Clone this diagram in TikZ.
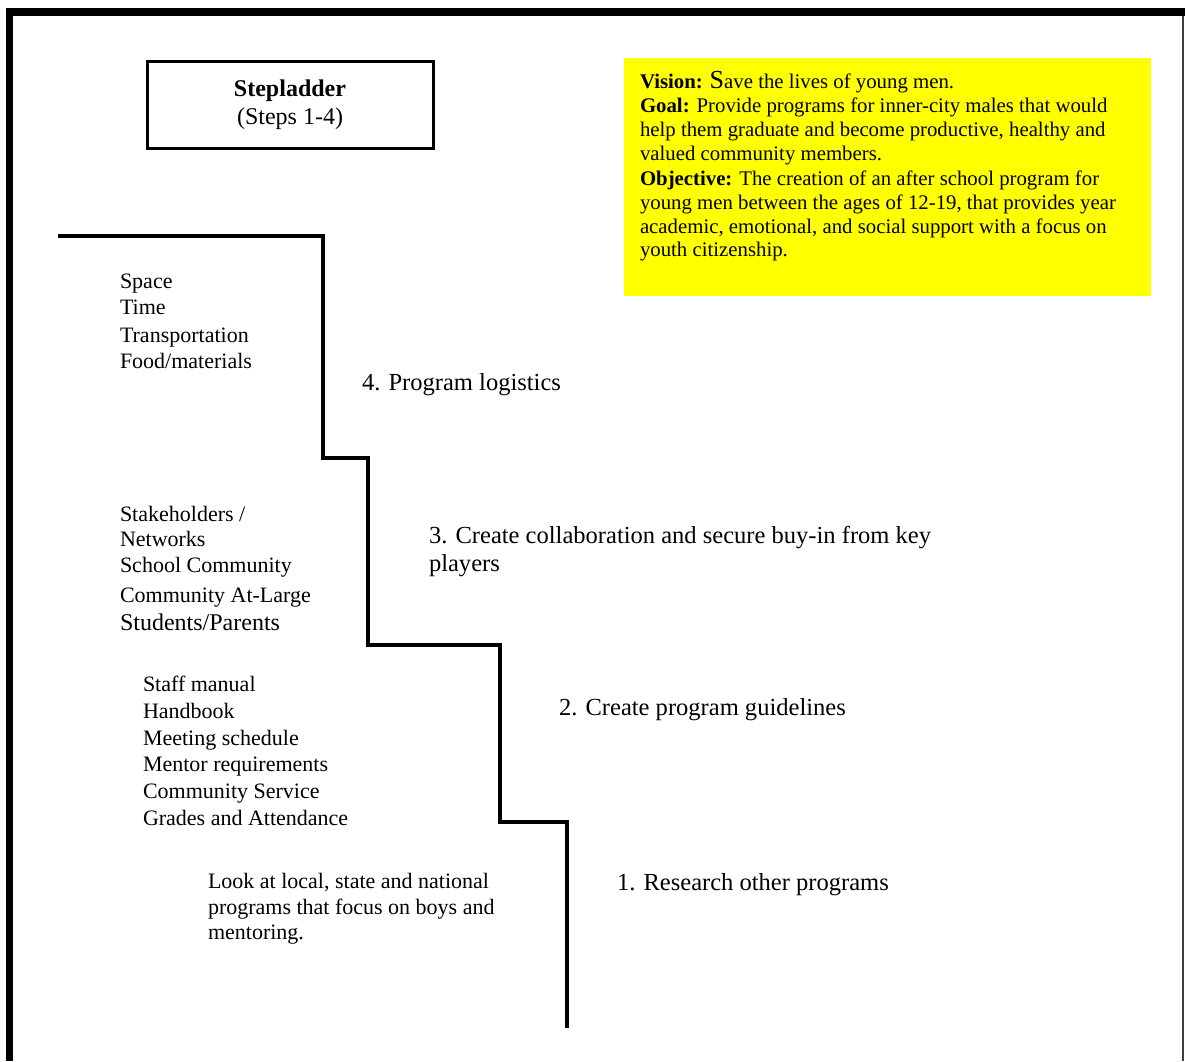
\documentclass[tikz,border=0pt]{standalone}
\usepackage{fontspec}
\setmainfont{Liberation Serif}
\definecolor{pureyellow}{RGB}{255,255,0}
\begin{document}
\begin{tikzpicture}[x=0.75pt,y=-0.75pt,
  txt/.style={anchor=base west, inner sep=0pt, outer sep=0pt},
  lst/.style={txt, font=\fontsize{16.5pt}{20pt}\selectfont},
  lstbig/.style={txt, font=\fontsize{18pt}{21pt}\selectfont},
  steplabel/.style={txt, font=\fontsize{18.4pt}{21pt}\selectfont},
  yel/.style={txt, font=\fontsize{15.6pt}{18pt}\selectfont},
  stair/.style={line width=3pt, line join=miter},
  titlebox/.style={draw, line width=2.25pt, inner sep=0pt, align=center,
    minimum width=214.5pt, minimum height=65.25pt,
    font=\fontsize{18pt}{21.3pt}\selectfont},
  yellowbox/.style={fill=pureyellow, inner sep=0pt, anchor=north west,
    minimum width=395.25pt, minimum height=178.5pt}]
\useasboundingbox (0,0) rectangle (1185,1061);
\fill[white] (0,0) rectangle (1185,1061);
% outer frame
\fill[black] (6,8) rectangle (1185,16);
\fill[black] (6,8) rectangle (13,1061);
\draw[line width=1.5pt, black!75] (1183,16) -- (1183,1061);

% title box
\node[titlebox] (title) at (290,104.5) {\textbf{Stepladder}\\(Steps 1-4)};

% yellow box
\node[yellowbox] (vbox) at (624,58) {};
\node[yel] (y1) at (640,88.3) {\textbf{Vision:} {\fontsize{19.5pt}{18pt}\selectfont S}ave the lives of young men.};
\node[yel] (y2) at (640,112.7) {\textbf{Goal:} Provide programs for inner-city males that would};
\node[yel] (y3) at (640,136.7) {help them graduate and become productive, healthy and};
\node[yel] (y4) at (640,160.7) {valued community members.};
\node[yel] (y5) at (640,185) {\textbf{Objective:} The creation of an after school program for};
\node[yel] (y6) at (640,209.3) {young men between the ages of 12-19, that provides year};
\node[yel] (y7) at (640,233.3) {academic, emotional, and social support with a focus on};
\node[yel] (y8) at (640,256.7) {youth citizenship.};

% staircase
\coordinate (st0) at (58,235.5);
\coordinate (st1) at (322.5,235.5);
\coordinate (st2) at (322.5,457.5);
\coordinate (st3) at (368,457.5);
\coordinate (st4) at (368,644.5);
\coordinate (st5) at (499.5,644.5);
\coordinate (st6) at (499.5,822);
\coordinate (st7) at (567,822);
\coordinate (st8) at (567,1028);
\draw[stair] (st0) -- (st1) -- (st2) -- (st3) -- (st4) -- (st5) -- (st6) -- (st7) -- (st8);

% step labels
\node[steplabel] (s4) at (362,390) {4. Program logistics};
\node[steplabel] (s3a) at (429,543.3) {3. Create collaboration and secure buy-in from key};
\node[steplabel] (s3b) at (429,571) {players};
\node[steplabel] (s2) at (559,715) {2. Create program guidelines};
\node[steplabel] (s1) at (617,890) {1. Research other programs};

% step 4 list
\node[lst] (a1) at (120,288.5) {Space};
\node[lst] (a2) at (120,314.5) {Time};
\node[lst] (a3) at (120,342.5) {Transportation};
\node[lst] (a4) at (120,368.5) {Food/materials};

% step 3 list
\node[lst] (b1) at (120,521.7) {Stakeholders /};
\node[lst] (b2) at (120,546) {Networks};
\node[lst] (b3) at (120,572.7) {School Community};
\node[lst] (b4) at (120,602.7) {Community At-Large};
\node[lstbig] (b5) at (120,630.7) {Students/Parents};

% step 2 list
\node[lst] (c1) at (143,691.7) {Staff manual};
\node[lst] (c2) at (143,718.3) {Handbook};
\node[lst] (c3) at (143,745) {Meeting schedule};
\node[lst] (c4) at (143,771.7) {Mentor requirements};
\node[lst] (c5) at (143,798.3) {Community Service};
\node[lst] (c6) at (143,825) {Grades and Attendance};

% step 1 text
\node[lst] (d1) at (208,888.3) {Look at local, state and national};
\node[lst] (d2) at (208,914) {programs that focus on boys and};
\node[lst] (d3) at (208,939) {mentoring.};
\end{tikzpicture}
\end{document}
